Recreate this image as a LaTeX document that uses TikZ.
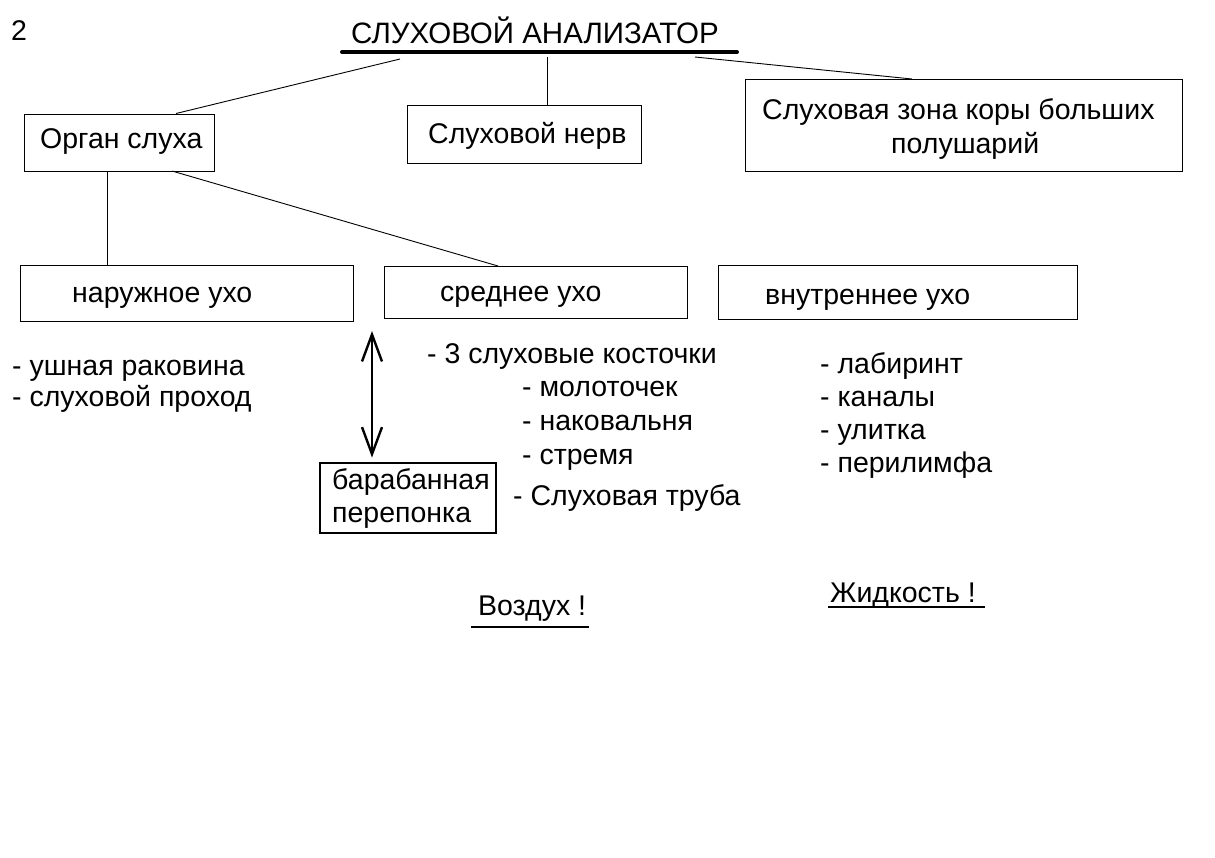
\documentclass[tikz,border=0pt]{standalone}
\usepackage{fontspec}
\setmainfont{Liberation Sans}
\usetikzlibrary{arrows.meta}
\begin{document}
\begin{tikzpicture}[x=1pt,y=-1pt,
  txt/.style={font=\fontsize{28.5}{32}\selectfont, inner sep=0pt, anchor=base west},
  box/.style={draw, line width=1pt, inner sep=0pt},
  thickbox/.style={draw, line width=2.8pt, inner sep=0pt},
  conn/.style={line width=0.9pt},
  uline/.style={line width=2pt}]
\useasboundingbox[fill=white] (0,0) rectangle (1215,857);

% title
\node[txt, font=\fontsize{29.5}{32}\selectfont] (title) at (351,43) {СЛУХОВОЙ АНАЛИЗАТОР};
\node[txt] (num) at (11,40) {2};
\coordinate (tuL) at (342,52);
\coordinate (tuR) at (737,52);
\draw[line width=4pt, line cap=round] (tuL) -- (tuR);

% boxes
\node[box, minimum width=190pt, minimum height=57pt] (organ) at (119,142.5) {};
\node[box, minimum width=234pt, minimum height=58pt] (nerv) at (524,134) {};
\node[box, minimum width=437pt, minimum height=92pt] (zona) at (963.5,125) {};
\node[box, minimum width=333pt, minimum height=56pt] (nar) at (186.5,293) {};
\node[box, minimum width=303pt, minimum height=52pt] (sred) at (535.5,292) {};
\node[box, minimum width=359pt, minimum height=54pt] (vnut) at (897.5,292) {};
\node[thickbox, minimum width=176pt, minimum height=70pt] (bar) at (408,498) {};

% box texts
\node[txt] (torgan) at (40,148) {Орган слуха};
\node[txt] (tnerv) at (428,143) {Слуховой нерв};
\node[txt] (tzona1) at (762,119) {Слуховая зона коры больших};
\node[txt] (tzona2) at (891,153) {полушарий};
\node[txt] (tnar) at (72,302) {наружное ухо};
\node[txt] (tsred) at (440,301) {среднее ухо};
\node[txt] (tvnut) at (765,304) {внутреннее ухо};
\node[txt] (tbar1) at (332,489) {барабанная};
\node[txt] (tbar2) at (332,522) {перепонка};

% connectors
\coordinate (c1) at (400,59);
\coordinate (c2) at (547,57);
\coordinate (c3) at (695,57);
\coordinate (e1) at (176,113.5);
\coordinate (e3) at (912,79);
\draw[conn] (c1) -- (e1);
\draw[conn] (c2) -- (c2 |- nerv.north);
\draw[conn] (c3) -- (e3);
\coordinate (o1) at (107,171);
\coordinate (o2) at (172,171);
\coordinate (s1) at (498,266);
\draw[conn] (o1) -- (o1 |- nar.north);
\draw[conn] (o2) -- (s1);

% arrow
\coordinate (arrTop) at (372,331);
\draw[line width=2.4pt, {Straight Barb[length=27pt,width=20pt,line width=2.4pt]}-{Straight Barb[length=27pt,width=20pt,line width=2.4pt]}]
  (arrTop) -- ([yshift=4pt]arrTop |- bar.north);

% lists
\node[txt] (l1) at (12,375) {- ушная раковина};
\node[txt] (l2) at (12,406) {- слуховой проход};
\node[txt] (m1) at (427,363) {- 3 слуховые косточки};
\node[txt] (m2) at (522,396) {- молоточек};
\node[txt] (m3) at (522,430) {- наковальня};
\node[txt] (m4) at (522,464) {- стремя};
\node[txt] (m5) at (513,505) {- Слуховая труба};
\node[txt] (r1) at (820,373) {- лабиринт};
\node[txt] (r2) at (820,406) {- каналы};
\node[txt] (r3) at (820,439) {- улитка};
\node[txt] (r4) at (820,472) {- перилимфа};

% bottom notes
\node[txt] (air) at (478,615) {Воздух !};
\node[txt] (liq) at (830,602) {Жидкость !};
\coordinate (au1) at (471,627);
\coordinate (au2) at (589,627);
\coordinate (lu1) at (828,607);
\coordinate (lu2) at (985,607);
\draw[uline] (au1) -- (au2);
\draw[uline] (lu1) -- (lu2);
\end{tikzpicture}
\end{document}
